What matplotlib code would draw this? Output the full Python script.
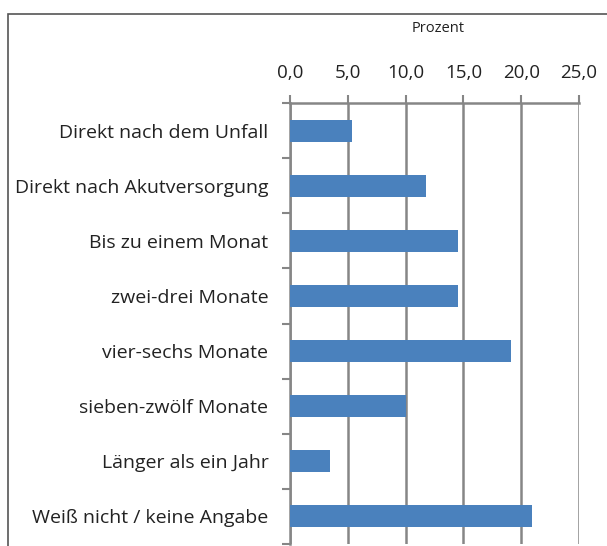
import matplotlib
matplotlib.use("Agg")
import matplotlib.pyplot as plt
from matplotlib.patches import Rectangle

# Daten
kategorien = ["Direkt nach dem Unfall", "Direkt nach Akutversorgung", "Bis zu einem Monat",
              "zwei-drei Monate", "vier-sechs Monate", "sieben-zwölf Monate",
              "Länger als ein Jahr", "Weiß nicht / keine Angabe"]
prozent = [5.4, 11.8, 14.5, 14.5, 19.1, 10.0, 3.5, 20.9]
xticks = [0, 5, 10, 15, 20, 25]
xtick_labels = ["0,0", "5,0", "10,0", "15,0", "20,0", "25,0"]

plt.rcParams['font.family'] = ['Open Sans', 'DejaVu Sans']

fig = plt.figure(figsize=(6.07, 5.46), dpi=100)
ax = fig.add_axes([290/607, 2/546, 289/607, 441/546])

# Rahmen um das Diagramm
fig.patches.append(Rectangle((8/607, -0.05), 1.0, 1 - 14/546 + 0.05, transform=fig.transFigure,
                             fill=False, edgecolor='#555555', linewidth=1.2))

y = list(range(len(kategorien)))
ax.barh(y, prozent, height=0.4, color='#4a81bd', zorder=3)
ax.set_ylim(len(kategorien) - 0.5, -0.5)
ax.set_xlim(0, 25)

ax.xaxis.tick_top()
ax.set_xticks(xticks)
ax.set_xticklabels(xtick_labels, fontsize=13.5, color='#222222')
ax.tick_params(axis='x', direction='out', length=6, width=1.5, color='#868686', pad=9)
ax.grid(axis='x', color='#868686', linewidth=1.8, zorder=0)
fig.text(438/607, 1 - 28/546, 'Prozent', fontsize=10.5, color='#222222', ha='center', va='center')

ax.set_yticks(y)
ax.set_yticklabels(kategorien, fontsize=14, color='#222222')
ax.set_yticks([i - 0.5 for i in range(len(kategorien) + 1)], minor=True)
ax.tick_params(axis='y', which='major', length=0, pad=15.5)
ax.tick_params(axis='y', which='minor', direction='out', length=6, width=1.5, color='#868686')

for s in ['right', 'bottom']:
    ax.spines[s].set_visible(False)
for s in ['top', 'left']:
    ax.spines[s].set_color('#868686')
    ax.spines[s].set_linewidth(1.8)

fig.savefig('out.png', dpi=100)
